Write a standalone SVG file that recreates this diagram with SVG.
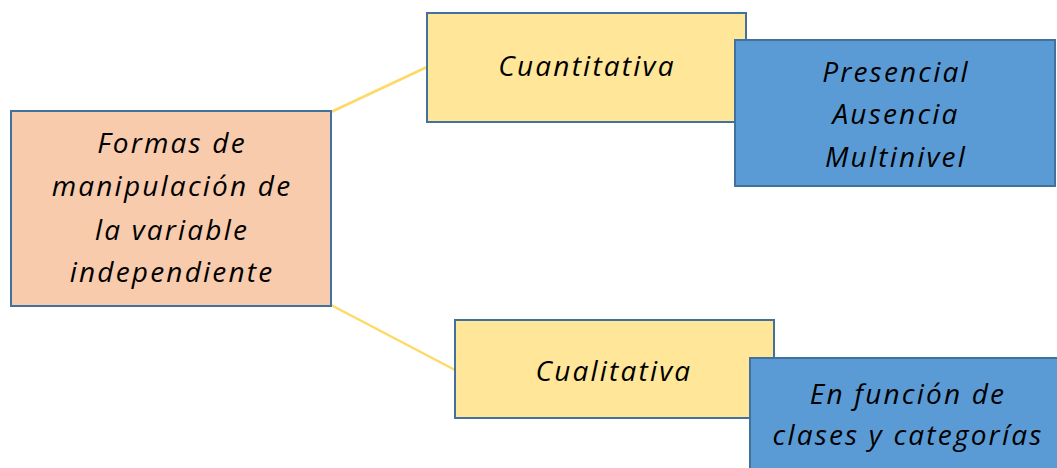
<svg xmlns="http://www.w3.org/2000/svg" width="1057" height="468" viewBox="0 0 1057 468">
  <style>
    .box { stroke: #41719C; stroke-width: 2; }
    .root { fill: #F8CBAD; }
    .cat { fill: #FFE699; }
    .sub { fill: #5B9BD5; }
    .lbl { font-family: "Open Sans", Lato, sans-serif; font-style: italic; font-size: 28px; fill: #000; text-anchor: middle; letter-spacing: 2.2px; }
    .link { stroke: #FFD966; stroke-width: 2.5; fill: none; }
  </style>
  <rect width="1057" height="468" fill="#fff"/>

  <g id="connectors">
    <line class="link" x1="331" y1="112" x2="427" y2="67"/>
    <line class="link" x1="331" y1="305" x2="455" y2="370"/>
  </g>

  <g id="root">
    <rect class="box root" x="11" y="111" width="320" height="195"/>
    <text class="lbl" x="172" y="153">Formas de</text>
    <text class="lbl" x="172" y="196">manipulación de</text>
    <text class="lbl" x="172" y="240">la variable</text>
    <text class="lbl" x="172" y="282">independiente</text>
  </g>

  <g id="cuantitativa">
    <rect class="box cat" x="427" y="13" width="319" height="109"/>
    <text class="lbl" x="587" y="76">Cuantitativa</text>
  </g>

  <g id="cuantitativa-tipos">
    <rect class="box sub" x="735" y="40" width="320" height="146"/>
    <text class="lbl" x="896" y="82">Presencial</text>
    <text class="lbl" x="896" y="124">Ausencia</text>
    <text class="lbl" x="896" y="167">Multinivel</text>
  </g>

  <g id="cualitativa">
    <rect class="box cat" x="455" y="320" width="319" height="98"/>
    <text class="lbl" x="614" y="381">Cualitativa</text>
  </g>

  <g id="cualitativa-tipos">
    <rect class="box sub" x="750" y="358" width="320" height="120"/>
    <text class="lbl" x="908" y="404">En función de</text>
    <text class="lbl" x="908" y="445">clases y categorías</text>
  </g>
</svg>
